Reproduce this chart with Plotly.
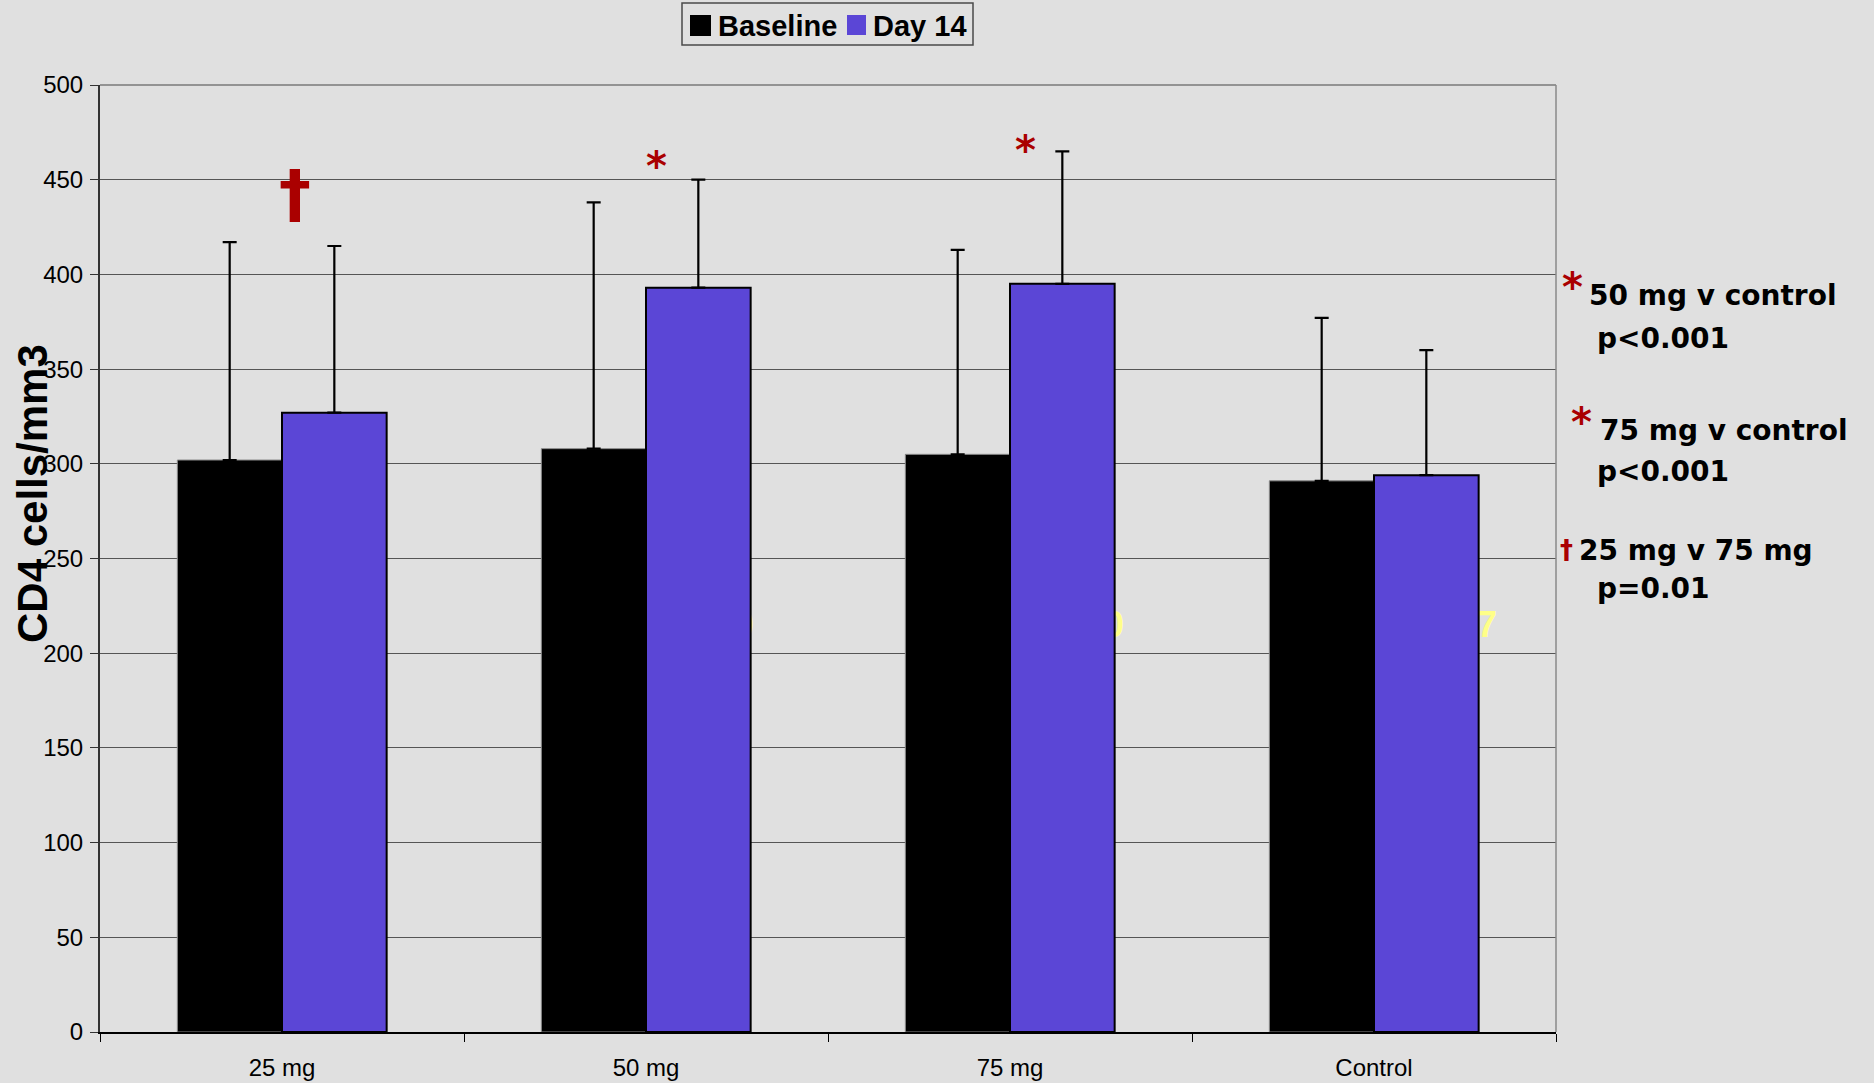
import plotly.graph_objects as go

# CD4 counts (cells/mm3), mean with upper SD whiskers
groups = ["25 mg", "50 mg", "75 mg", "Control"]
baseline = [302, 308, 305, 291]
baseline_sd = [115, 130, 108, 86]
day14 = [327, 393, 395, 294]
day14_sd = [88, 57, 70, 66]

series_names = ["Baseline", "Day 14"]
y_ticks = [0, 50, 100, 150, 200, 250, 300, 350, 400, 450, 500]

significance = [
    ("*", "50 mg v control", "p<0.001"),
    ("*", "75 mg v control", "p<0.001"),
    ("†", "25 mg v 75 mg", "p=0.01"),
]

BG = "#E0E0E0"
PURPLE = "#5B46D6"
RED = "#AA0000"
ARIAL = "Liberation Sans, Arial, sans-serif"
VERDANA = "DejaVu Sans, Verdana, sans-serif"

W, H = 1874, 1083
L, R, T, B = 100, 1556, 85, 1032


def px(xp):
    return (xp - L) / (R - L)


def py(yp):
    return (B - yp) / (B - T)


fig = go.Figure()
fig.add_trace(go.Bar(
    name=series_names[0], x=groups, y=baseline,
    marker=dict(color="black", line=dict(color="#8a8a8a", width=1)),
    error_y=dict(type="data", symmetric=False, array=baseline_sd,
                 arrayminus=[0] * len(groups), color="black",
                 thickness=2.2, width=7),
    showlegend=False,
))
fig.add_trace(go.Bar(
    name=series_names[1], x=groups, y=day14,
    marker=dict(color=PURPLE, line=dict(color="black", width=2)),
    error_y=dict(type="data", symmetric=False, array=day14_sd,
                 arrayminus=[0] * len(groups), color="black",
                 thickness=2.2, width=7),
    showlegend=False,
))

shapes = []
annotations = []

# plot frame: top and right edges
shapes.append(dict(type="line", xref="paper", yref="paper", x0=0, x1=1, y0=1, y1=1,
                   line=dict(color="#7a7a7a", width=1.5), layer="above"))
shapes.append(dict(type="line", xref="paper", yref="paper", x0=1, x1=1, y0=0, y1=1,
                   line=dict(color="#8a8a8a", width=1.5), layer="above"))


# faint yellow labels sitting behind the Day 14 bars
def data_x(xp):
    return (xp - L) / ((R - L) / len(groups)) - 0.5


def data_y(yp):
    return (B - yp) / ((B - T) / 500)


for text, right_edge in [("0", 754), ("0", 1124), ("7", 1497)]:
    shapes.append(dict(
        type="line", xref="x", yref="y",
        x0=data_x(right_edge - 20), x1=data_x(right_edge),
        y0=data_y(621), y1=data_y(621),
        line=dict(color="rgba(0,0,0,0)", width=0), layer="between",
        label=dict(text=text, textposition="end", xanchor="right", yanchor="middle",
                   padding=0, font=dict(family=ARIAL, size=36, color="#FFFF88",
                                        weight="bold")),
    ))

# legend box
shapes.append(dict(type="rect", xref="paper", yref="paper",
                   x0=px(682), x1=px(973), y0=py(45), y1=py(3),
                   line=dict(color="#4a4a4a", width=1.5), fillcolor=BG))
shapes.append(dict(type="rect", xref="paper", yref="paper",
                   x0=px(690), x1=px(711), y0=py(36), y1=py(15),
                   line=dict(width=0), fillcolor="black"))
shapes.append(dict(type="rect", xref="paper", yref="paper",
                   x0=px(847), x1=px(866), y0=py(35), y1=py(15),
                   line=dict(width=0), fillcolor=PURPLE))
for text, xl in [(series_names[0], 716), (series_names[1], 871)]:
    annotations.append(dict(text="<b>%s</b>" % text, xref="paper", yref="paper",
                            x=px(xl), y=py(26), xanchor="left", yanchor="middle",
                            showarrow=False,
                            font=dict(family=ARIAL, size=29, color="black")))

# y-axis title
annotations.append(dict(text="<b>CD4 cells/mm3</b>", xref="paper", yref="paper",
                        x=px(32), y=py(494), textangle=-90, xanchor="center",
                        yanchor="middle", showarrow=False,
                        font=dict(family=ARIAL, size=42, color="black")))

# significance markers above the bars
annotations.append(dict(text="<b>†</b>", x=groups[0], xref="x", y=442.5, yref="y",
                        xshift=13, showarrow=False, xanchor="center", yanchor="middle",
                        font=dict(family=VERDANA, size=64, color=RED)))
annotations.append(dict(text="<b>*</b>", x=groups[1], xref="x", y=457, yref="y",
                        xshift=10, showarrow=False, xanchor="center", yanchor="middle",
                        font=dict(family=VERDANA, size=40, color=RED)))
annotations.append(dict(text="<b>*</b>", x=groups[2], xref="x", y=465.5, yref="y",
                        xshift=15, showarrow=False, xanchor="center", yanchor="middle",
                        font=dict(family=VERDANA, size=40, color=RED)))

# side notes with p-values
note_layout = [
    # symbol x, symbol y, symbol size, line1 x, line1 y, line2 x, line2 y
    (1572, 287, 40, 1587, 295, 1595, 338),
    (1581, 422, 40, 1598, 430, 1595, 472),
    (1566, 550, 26, 1577, 550, 1595, 588),
]
for (sym, line1, line2), (sx, sy, ss, x1, y1, x2, y2) in zip(significance, note_layout):
    annotations.append(dict(text="<b>%s</b>" % sym, xref="paper", yref="paper",
                            x=px(sx), y=py(sy), xanchor="center", yanchor="middle",
                            showarrow=False,
                            font=dict(family=VERDANA, size=ss, color=RED)))
    annotations.append(dict(text="<b>%s</b>" % line1, xref="paper", yref="paper",
                            x=px(x1), y=py(y1), xanchor="left", yanchor="middle",
                            showarrow=False,
                            font=dict(family=VERDANA, size=28, color="black")))
    annotations.append(dict(text="<b>%s</b>" % line2, xref="paper", yref="paper",
                            x=px(x2), y=py(y2), xanchor="left", yanchor="middle",
                            showarrow=False,
                            font=dict(family=VERDANA, size=28, color="black")))

fig.update_layout(
    width=W, height=H,
    margin=dict(l=L, r=W - R, t=T, b=H - B, pad=0),
    paper_bgcolor=BG, plot_bgcolor=BG,
    barmode="group", bargap=0.425, bargroupgap=0,
    shapes=shapes, annotations=annotations,
    font=dict(family=ARIAL, color="black"),
)
fig.update_xaxes(
    type="category", showline=True, linecolor="black", linewidth=2,
    ticks="outside", tickson="boundaries", ticklen=8, tickwidth=1.2, tickcolor="black",
    tickfont=dict(family=ARIAL, size=24, color="black"), ticklabelstandoff=13,
    showgrid=False, zeroline=False, automargin=False,
)
fig.update_yaxes(
    range=[0, 500], tickvals=y_ticks, showline=True, linecolor="#333333", linewidth=2,
    ticks="outside", ticklen=8, tickwidth=1.2, tickcolor="#333333",
    tickfont=dict(family=ARIAL, size=24, color="black"), ticklabelstandoff=2,
    showgrid=True, gridcolor="#555555", gridwidth=1.3, zeroline=False, automargin=False,
)

fig.write_html("out.html")
